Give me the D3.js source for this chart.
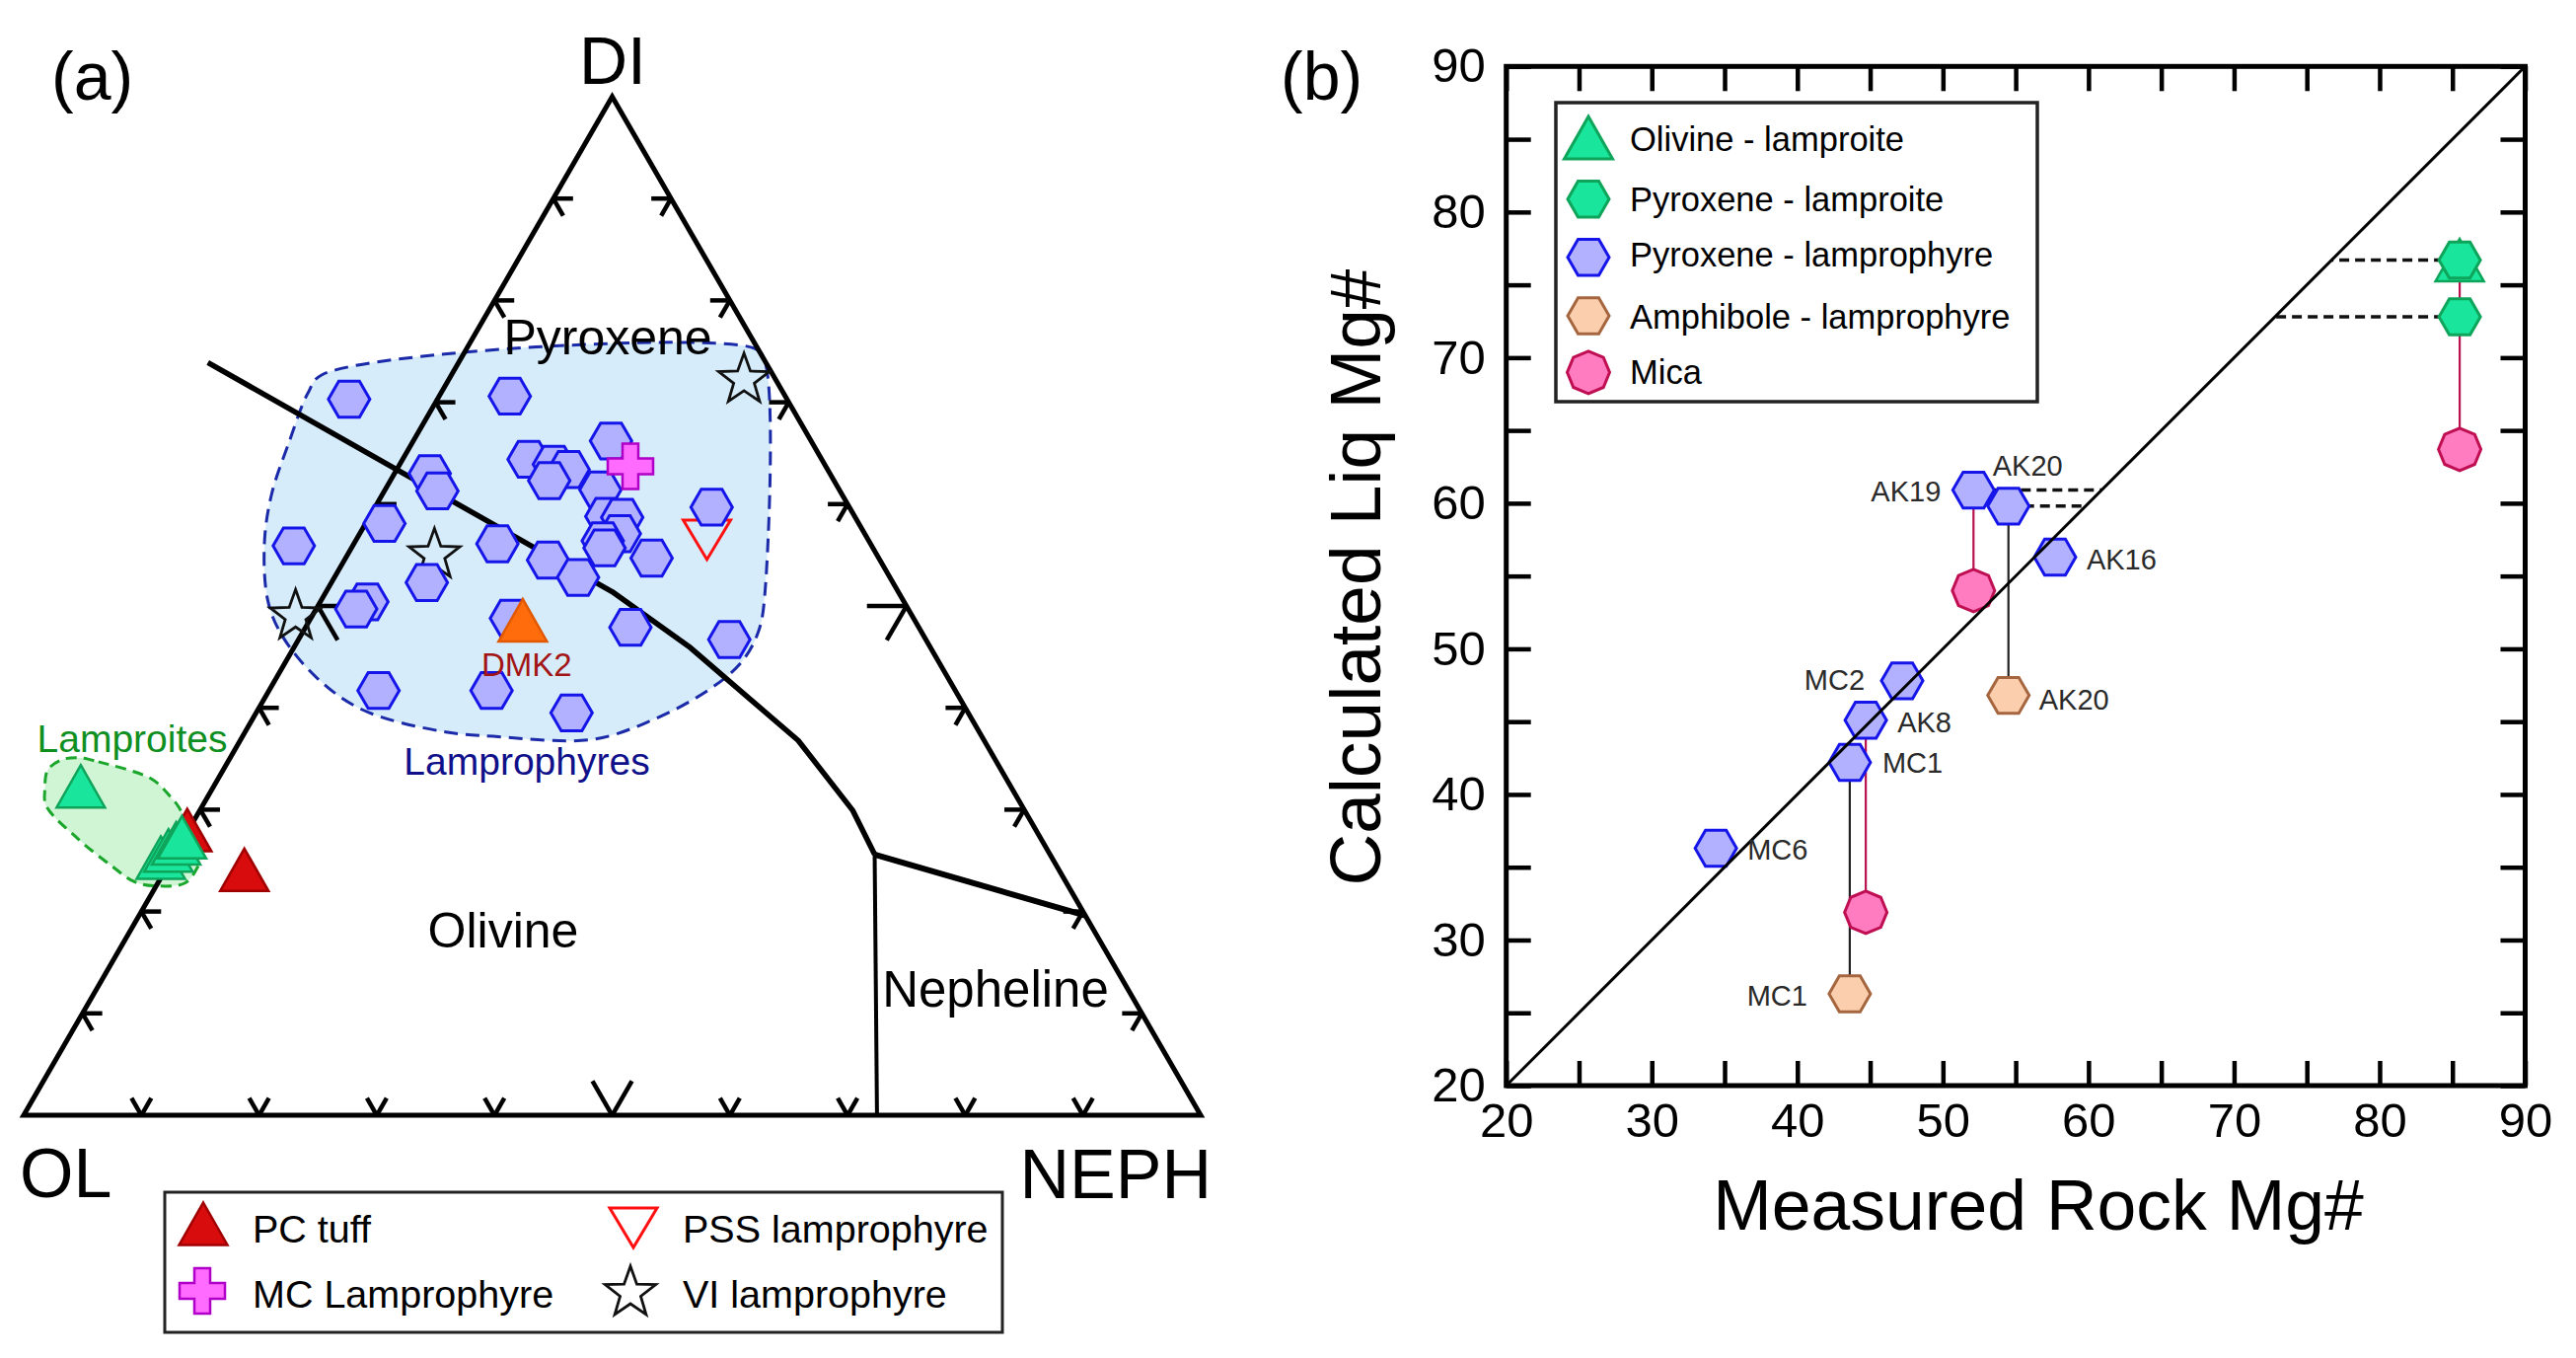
<!DOCTYPE html>
<html><head><meta charset="utf-8">
<script src="https://cdn.jsdelivr.net/npm/d3@7"></script>
<style>
html,body{margin:0;padding:0;background:#fff;}
svg{display:block;}
</style></head>
<body><svg id="chart" width="2611" height="1376"></svg>
<script>
// ======================= DATA =======================
// Panel (a): ternary OL - DI - NEPH. Each point is [DI %, NEPH %]; OL = 100 - DI - NEPH
const ternaryTicks = [10, 20, 30, 40, 50, 60, 70, 80, 90];
const pyxLamprophyreTern = [
  [70.3,-7.5],[70.6,6.0],[66.2,16.8],[64.4,10.7],[63.9,13.1],[63.4,14.6],[62.3,13.5],
  [63.0,3.0],[61.3,4.5],[61.4,18.3],[58.8,20.1],[58.7,21.5],[57.1,22.1],[56.4,21.0],
  [55.7,21.5],[59.7,28.6],[58.1,1.6],[55.9,-5.0],[56.1,12.2],[54.5,17.3],[52.8,20.7],
  [54.7,26.0],[52.3,8.1],[50.4,4.0],[49.7,3.4],[48.8,17.0],[47.9,27.6],[46.7,36.6],
  [41.7,9.3],[41.7,18.9],[39.5,26.8]
];
const pcTuffTern = [[28.0,-0.1],[24.1,6.7]];
const olLamproiteTern = [[32.3,-11.3],[25.3,-1.0],[26.0,-0.7],[26.7,-0.4],[27.3,-0.2]];
const mcLamprophyreTern = [[63.7,19.7]];
const pssLamprophyreTern = [[56.5,29.8]];
const viLamprophyreTern = [[72.2,25.1],[55.0,7.4],[49.0,-1.4]];
const dmk2Tern = [[48.6,18.1]];
const dmk2Name = ["DMK2"];
const olPxBoundary = [[73.9,-21.3],[51.4,24.3],[45.9,33.7],[36.8,47.4],[29.9,55.5],[25.6,59.5]];
const olNeBoundary = [[25.6,59.5],[0,72.5]];
const pxNeBoundary = [[25.6,59.5],[19.6,80.4]];
const lamprophyreField = [[72.7,-11.0],[75.3,24.4],[74.1,25.9],[51.6,37.2],[47.4,38.7],[44.3,38.7],
  [41.5,37.1],[38.8,34.0],[36.9,29.9],[37.2,21.3],[37.7,16.6],[39.8,8.9],[42.9,3.5],[47.1,-1.6],
  [50.5,-4.5],[56.1,-7.6],[60.9,-9.4],[66.1,-10.5],[70.9,-11.3]];
const lamproiteField = [[35.1,-12.8],[34.7,-11.0],[33.0,-5.6],[31.3,-3.2],[30.2,-1.9],[25.5,2.3],
  [24.2,2.6],[22.8,2.3],[22.5,0.2],[22.9,-2.0],[24.5,-4.8],[27.1,-8.9],[30.4,-13.3],[32.0,-14.2],
  [33.9,-14.9],[34.9,-14.2]];
const legendA = ["PC tuff", "PSS lamprophyre", "MC Lamprophyre", "VI lamprophyre"];

// Panel (b): Measured Rock Mg# vs Calculated Liq Mg#
const bTickValues = [20,25,30,35,40,45,50,55,60,65,70,75,80,85,90];
const bTickLabels = [20,30,40,50,60,70,80,90];
const oneToOne = [20, 90];
const pxLamprophyreNames = ["AK19","AK20","AK16","MC2","AK8","MC1","MC6"];
const pxLamprophyreRock  = [52.1, 54.5, 57.7, 47.2, 44.7, 43.6, 34.4];
const pxLamprophyreLiq   = [60.9, 59.8, 56.3, 47.8, 45.1, 42.2, 36.3];
const amphNames = ["AK20","MC1"];
const amphRock  = [54.5, 43.6];
const amphLiq   = [46.8, 26.3];
const micaRock  = [52.1, 44.7, 85.5];
const micaLiq   = [54.0, 31.9, 63.7];
const pxLamproiteRock = [85.5, 85.5];
const pxLamproiteLiq  = [76.7, 72.8];
const olLamproiteRock = [85.5];
const olLamproiteLiq  = [76.7];
// tie lines: [rock, liq from, liq to]
const tiesAmph = [[54.5,59.8,46.8],[43.6,42.2,26.3]];
const tiesMica = [[52.1,60.9,54.0],[44.7,45.1,31.9],[85.5,76.7,63.7]];
// horizontal projections to the 1:1 line: [rock, liq]
const equilProj = [[52.1,60.9],[54.5,59.8],[85.5,76.7],[85.5,72.8]];
const legendB = ["Olivine - lamproite","Pyroxene - lamproite","Pyroxene - lamprophyre","Amphibole - lamprophyre","Mica"];

// ======================= STYLE / LAYOUT =======================
const FONT = '"Liberation Sans", Arial, Helvetica, sans-serif';
const C = {
  hexBlueFill:"#b1b1ff", hexBlueStroke:"#1515ea",
  greenFill:"#19e69c", greenStroke:"#0ea45a",
  amphFill:"#fbcfae", amphStroke:"#a5663f",
  micaFill:"#ff7cc0", micaStroke:"#bf0f52",
  redFill:"#d80c0c", redStroke:"#a00000",
  orangeFill:"#ff6c0c", orangeStroke:"#e05800",
  crossFill:"#ff6aff", crossStroke:"#b000c8",
  fieldBlue:"#d6ecfb", fieldBlueStroke:"#1a2aa8",
  fieldGreen:"#d0f5d4", fieldGreenStroke:"#1aa62a"
};
const B_LABEL_LAYOUT = {
  "px:AK19":["end",-33,11], "px:AK20":["start",-16,-31], "px:AK16":["start",32,13],
  "px:MC2":["end",-38,9], "px:AK8":["start",32,12], "px:MC1":["start",33,11],
  "px:MC6":["start",32,11], "am:AK20":["start",31,14], "am:MC1":["end",-43,12]
};

function polyPath(n, r, rot){
  rot = rot || 0;
  return "M" + d3.range(n).map(i => {
    const a = rot + i*2*Math.PI/n;
    return (r*Math.cos(a)).toFixed(2) + "," + (r*Math.sin(a)).toFixed(2);
  }).join("L") + "Z";
}
function starPath(R, r){
  return "M" + d3.range(10).map(i => {
    const a = -Math.PI/2 + i*Math.PI/5, rr = i%2 ? r : R;
    return (rr*Math.cos(a)).toFixed(2) + "," + (rr*Math.sin(a)).toFixed(2);
  }).join("L") + "Z";
}
const HEX = polyPath(6, 21);
const OCT = polyPath(8, 21.5);
const TRI = "M0,-21.5L24.5,21.5L-24.5,21.5Z";
const ITRI = "M-24,-20L24,-20L0,20Z";
const STAR = starPath(27, 11);
const CROSS = "M-8,-23L8,-23L8,-8L23,-8L23,8L8,8L8,23L-8,23L-8,8L-23,8L-23,-8L-8,-8Z";

const svg = d3.select("#chart").style("font-family", FONT);

function marker(g, d, path, x, y, fill, stroke, sw){
  g.append("path").attr("d", path).attr("transform", `translate(${x},${y})`)
    .attr("fill", fill).attr("stroke", stroke).attr("stroke-width", sw).attr("stroke-linejoin","miter");
}
function text(g, s, x, y, size, anchor, fill){
  return g.append("text").attr("x", x).attr("y", y).attr("font-size", size)
    .attr("text-anchor", anchor || "start").attr("fill", fill || "#000").text(s);
}

// ======================= PANEL (a) =======================
const tx = d3.scaleLinear().domain([0,100]).range([24,1217]);
const ty = d3.scaleLinear().domain([0,100]).range([1130,98]);
const proj = d => [tx(d[1] + d[0]/2), ty(d[0])];
const gA = svg.append("g");

const fieldLine = d3.line().x(d => proj(d)[0]).y(d => proj(d)[1]).curve(d3.curveCatmullRomClosed.alpha(0.5));
gA.append("path").attr("d", fieldLine(lamprophyreField)).attr("fill", C.fieldBlue)
  .attr("stroke", C.fieldBlueStroke).attr("stroke-width", 3).attr("stroke-dasharray","14,8");
gA.append("path").attr("d", fieldLine(lamproiteField)).attr("fill", C.fieldGreen)
  .attr("stroke", C.fieldGreenStroke).attr("stroke-width", 3).attr("stroke-dasharray","11,7");

// triangle frame
const apexL = proj([0,0]), apexR = proj([0,100]), apexT = proj([100,0]);
gA.append("path").attr("d", `M${apexL}L${apexR}L${apexT}Z`).attr("fill","none")
  .attr("stroke","#000").attr("stroke-width",5).attr("stroke-linejoin","miter");

// ticks
const s3 = Math.sqrt(3)/2;
ternaryTicks.forEach(k => {
  const L = k === 50 ? 40 : 20;
  const b = proj([0,k]), l = proj([k,0]), r = proj([k,100-k]);
  const segs = [
    [b, [b[0]-0.5*L, b[1]-s3*L]], [b, [b[0]+0.5*L, b[1]-s3*L]],
    [l, [l[0]+L, l[1]]], [l, [l[0]+0.5*L, l[1]+s3*L]],
    [r, [r[0]-L, r[1]]], [r, [r[0]-0.5*L, r[1]+s3*L]]
  ];
  segs.forEach(s => gA.append("line").attr("x1",s[0][0]).attr("y1",s[0][1]).attr("x2",s[1][0]).attr("y2",s[1][1])
    .attr("stroke","#000").attr("stroke-width",4.5));
});

// boundaries
const bLine = d3.line().x(d => proj(d)[0]).y(d => proj(d)[1]);
gA.append("path").attr("d", bLine(olPxBoundary)).attr("fill","none").attr("stroke","#000").attr("stroke-width",5.5).attr("stroke-linejoin","round");
gA.append("path").attr("d", bLine(olNeBoundary)).attr("fill","none").attr("stroke","#000").attr("stroke-width",4);
gA.append("path").attr("d", bLine(pxNeBoundary)).attr("fill","none").attr("stroke","#000").attr("stroke-width",6);

// region labels
text(gA, "Pyroxene", 616, 359, 50, "middle");
text(gA, "Olivine", 510, 960, 50, "middle");
text(gA, "Nepheline", 1009, 1020, 51, "middle");
text(gA, "Lamproites", 134, 762, 39, "middle", "#0f8f1f");
text(gA, "Lamprophyres", 534, 785, 39, "middle", "#10108a");

// markers
pcTuffTern.forEach(d => { const p = proj(d); marker(gA, d, TRI, p[0], p[1], C.redFill, C.redStroke, 2.5); });
pssLamprophyreTern.forEach(d => { const p = proj(d); marker(gA, d, ITRI, p[0], p[1], "none", "#ff1010", 3); });
viLamprophyreTern.forEach(d => { const p = proj(d); marker(gA, d, STAR, p[0], p[1], "none", "#111", 2.8); });
pyxLamprophyreTern.forEach(d => { const p = proj(d); marker(gA, d, HEX, p[0], p[1], C.hexBlueFill, C.hexBlueStroke, 3); });
mcLamprophyreTern.forEach(d => { const p = proj(d); marker(gA, d, CROSS, p[0], p[1], C.crossFill, C.crossStroke, 2.5); });
dmk2Tern.forEach((d,i) => {
  const p = proj(d); marker(gA, d, TRI, p[0], p[1], C.orangeFill, C.orangeStroke, 2.5);
  text(gA, dmk2Name[i], p[0]+4, p[1]+57, 33, "middle", "#a31515");
});
olLamproiteTern.forEach(d => { const p = proj(d); marker(gA, d, TRI, p[0], p[1], C.greenFill, C.greenStroke, 2.5); });

// apex labels and panel letter
text(gA, "DI", 621, 85, 68, "middle");
text(gA, "OL", 20, 1213, 70, "start");
text(gA, "NEPH", 1228, 1214, 70, "end");
text(gA, "(a)", 52, 101, 68, "start");

// legend (a)
gA.append("rect").attr("x",167).attr("y",1208).attr("width",849).attr("height",142)
  .attr("fill","#fff").attr("stroke","#222").attr("stroke-width",3);
marker(gA, null, TRI, 206, 1240, C.redFill, C.redStroke, 2.5);
text(gA, legendA[0], 256, 1259, 39.5);
marker(gA, null, ITRI, 642, 1244, "none", "#ff1010", 3);
text(gA, legendA[1], 692, 1259, 39.5);
marker(gA, null, CROSS, 205, 1308, C.crossFill, C.crossStroke, 2.5);
text(gA, legendA[2], 256, 1325, 39.5);
marker(gA, null, STAR, 639, 1310, "none", "#111", 2.8);
text(gA, legendA[3], 692, 1325, 39.5);

// ======================= PANEL (b) =======================
const bx = d3.scaleLinear().domain([20,90]).range([1526.7, 2559.5]);
const by = d3.scaleLinear().domain([20,90]).range([1100, 67.3]);
const gB = svg.append("g");

function styleAxis(g){
  g.attr("font-family", FONT).attr("font-size", 49);
  g.select(".domain").remove();
  g.selectAll(".tick line").attr("stroke","#000").attr("stroke-width",4.5);
  g.selectAll(".tick text").attr("fill","#000");
}
const fmt = d => bTickLabels.includes(d) ? d : "";
gB.append("g").attr("transform",`translate(0,${by(20)})`)
  .call(d3.axisBottom(bx).tickValues(bTickValues).tickSizeInner(-25).tickSizeOuter(0).tickPadding(17).tickFormat(fmt)).call(styleAxis);
gB.append("g").attr("transform",`translate(0,${by(90)})`)
  .call(d3.axisTop(bx).tickValues(bTickValues).tickSizeInner(-25).tickSizeOuter(0).tickFormat("")).call(styleAxis);
gB.append("g").attr("transform",`translate(${bx(20)},0)`)
  .call(d3.axisLeft(by).tickValues(bTickValues).tickSizeInner(-25).tickSizeOuter(0).tickPadding(21).tickFormat(fmt)).call(styleAxis);
gB.append("g").attr("transform",`translate(${bx(90)},0)`)
  .call(d3.axisRight(by).tickValues(bTickValues).tickSizeInner(-25).tickSizeOuter(0).tickFormat("")).call(styleAxis);
gB.append("rect").attr("x",bx(20)).attr("y",by(90)).attr("width",bx(90)-bx(20)).attr("height",by(20)-by(90))
  .attr("fill","none").attr("stroke","#000").attr("stroke-width",5);

// dashed projections
equilProj.forEach(d => gB.append("line").attr("x1",bx(d[0])).attr("y1",by(d[1])).attr("x2",bx(d[1])).attr("y2",by(d[1]))
  .attr("stroke","#111").attr("stroke-width",3.5).attr("stroke-dasharray","10,6"));
// tie lines
tiesAmph.forEach(d => gB.append("line").attr("x1",bx(d[0])).attr("y1",by(d[1])).attr("x2",bx(d[0])).attr("y2",by(d[2]))
  .attr("stroke","#222").attr("stroke-width",2.2));
tiesMica.forEach(d => gB.append("line").attr("x1",bx(d[0])).attr("y1",by(d[1])).attr("x2",bx(d[0])).attr("y2",by(d[2]))
  .attr("stroke","#b8124f").attr("stroke-width",2.2));

// markers
amphRock.forEach((v,i) => marker(gB, null, HEX, bx(v), by(amphLiq[i]), C.amphFill, C.amphStroke, 3));
micaRock.forEach((v,i) => marker(gB, null, OCT, bx(v), by(micaLiq[i]), C.micaFill, C.micaStroke, 3));
pxLamprophyreRock.forEach((v,i) => marker(gB, null, HEX, bx(v), by(pxLamprophyreLiq[i]), C.hexBlueFill, C.hexBlueStroke, 3));
olLamproiteRock.forEach((v,i) => marker(gB, null, TRI, bx(v), by(olLamproiteLiq[i]), C.greenFill, C.greenStroke, 2.5));
pxLamproiteRock.forEach((v,i) => marker(gB, null, HEX, bx(v), by(pxLamproiteLiq[i]), C.greenFill, C.greenStroke, 3));

// 1:1 line
gB.append("line").attr("x1",bx(oneToOne[0])).attr("y1",by(oneToOne[0])).attr("x2",bx(oneToOne[1])).attr("y2",by(oneToOne[1]))
  .attr("stroke","#000").attr("stroke-width",3);

// sample labels
pxLamprophyreNames.forEach((n,i) => {
  const L = B_LABEL_LAYOUT["px:"+n];
  text(gB, n, bx(pxLamprophyreRock[i]) + L[1], by(pxLamprophyreLiq[i]) + L[2], 29, L[0], "#2a2a2a");
});
amphNames.forEach((n,i) => {
  const L = B_LABEL_LAYOUT["am:"+n];
  text(gB, n, bx(amphRock[i]) + L[1], by(amphLiq[i]) + L[2], 29, L[0], "#2a2a2a");
});

// axis titles
text(gB, "Measured Rock Mg#", 2066, 1246, 71.5, "middle");
gB.append("text").attr("transform","translate(1399,585) rotate(-90)").attr("text-anchor","middle")
  .attr("font-size",73).attr("fill","#000").text("Calculated Liq Mg#");
text(gB, "(b)", 1298, 101, 68, "start");

// legend (b)
gB.append("rect").attr("x",1577).attr("y",104).attr("width",488).attr("height",303)
  .attr("fill","#fff").attr("stroke","#222").attr("stroke-width",3.5);
const legBSym = [
  [TRI, C.greenFill, C.greenStroke, 139.5],
  [HEX, C.greenFill, C.greenStroke, 201.7],
  [HEX, C.hexBlueFill, C.hexBlueStroke, 260.7],
  [HEX, C.amphFill, C.amphStroke, 320],
  [OCT, C.micaFill, C.micaStroke, 377.3]
];
const legBBase = [152.7, 214, 270, 333, 389];
legendB.forEach((s,i) => {
  const m = legBSym[i];
  marker(gB, null, m[0], 1610, m[3], m[1], m[2], 3);
  text(gB, s, 1652, legBBase[i], 34.5);
});
</script>
</body></html>
